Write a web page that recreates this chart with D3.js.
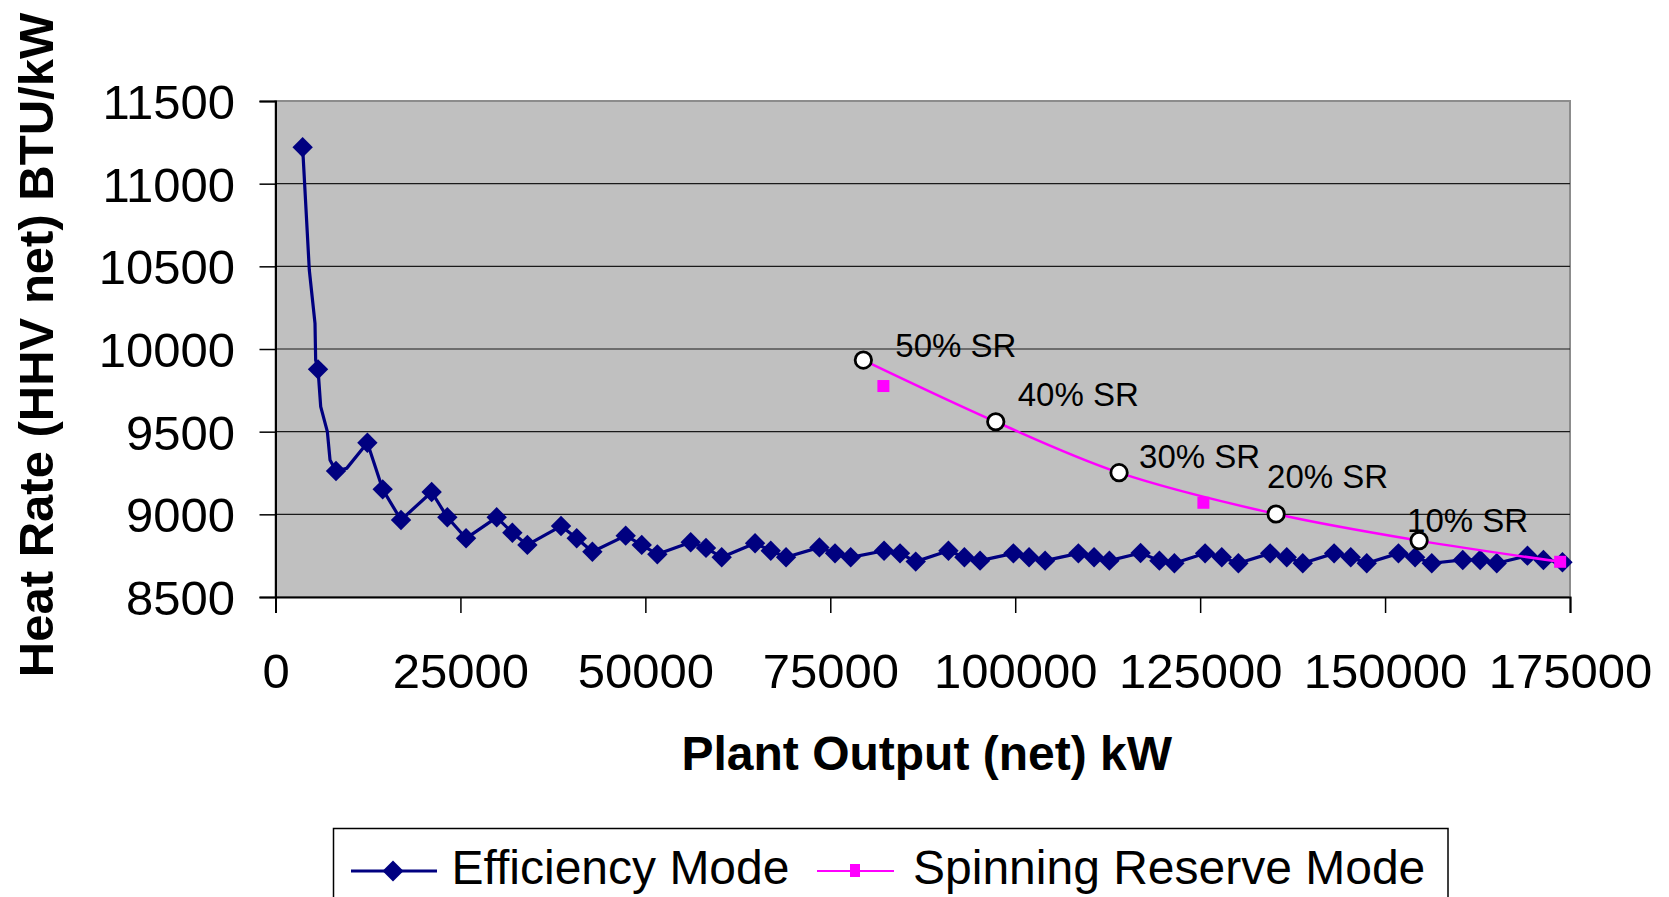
<!DOCTYPE html>
<html>
<head>
<meta charset="utf-8">
<script src="https://cdn.jsdelivr.net/npm/d3@7"></script>
<style>
    html, body { margin: 0; padding: 0; background: #fff; }
    svg { display: block; font-family: 'Liberation Sans', Arial, sans-serif; }
</style>
</head>
<body>
<svg id="chart"></svg>
<script>
// efficiency mode: plant output (kW) vs heat rate (BTU/kW)
const effOutput = [3670, 4570, 5340, 5430, 5750, 6110, 7010, 7370, 8180, 9620,
    12420, 14490, 16970, 21110, 23230, 25760, 29900, 32020, 34050, 38600,
    40720, 42840, 47340, 49510, 51620, 56130, 58200, 60320, 64830, 66950,
    69020, 73530, 75640, 77760, 82270, 84430, 86550, 90970, 93130, 95250,
    99750, 101870, 104040, 108540, 110660, 112730, 116950, 119490, 121520, 125670,
    127920, 130170, 134460, 136710, 138870, 143110, 145360, 147520, 151810, 154060,
    156310, 160500, 162850, 165100, 169250, 171410, 173980];
const effHeatRate = [11220, 10478, 10155, 9933, 9877, 9651, 9500, 9329, 9262, 9278,
    9433, 9151, 8966, 9135, 8982, 8855, 8982, 8889, 8815, 8929,
    8855, 8774, 8871, 8815, 8758, 8831, 8797, 8740, 8825, 8780,
    8740, 8800, 8764, 8740, 8780, 8764, 8714, 8780, 8740, 8720,
    8764, 8740, 8720, 8764, 8740, 8720, 8766, 8720, 8704, 8764,
    8740, 8704, 8764, 8740, 8704, 8764, 8740, 8704, 8764, 8740,
    8704, 8724, 8724, 8704, 8750, 8724, 8710];
// some points of the curve carry no marker
const effHasMarker = effOutput.map((d, i) => ![1, 2, 3, 5, 6, 7, 9].includes(i));

// spinning reserve mode
const srModeOutput = [82180, 125440, 173670];
const srModeHeatRate = [9776, 9070, 8713];

// spinning reserve levels (curve + open circles)
const srLevelOutput = [79470, 97370, 114040, 135270, 154600, 173670];
const srLevelHeatRate = [9933, 9560, 9252, 9002, 8841, 8713];
const srLevelLabels = ['50% SR', '40% SR', '30% SR', '20% SR', '10% SR'];
const labelNudge = [[32, -3], [22, -16], [20, -5], [-9, -26], [-12, -9]];

const xTicks = [0, 25000, 50000, 75000, 100000, 125000, 150000, 175000];
const yTicks = [8500, 9000, 9500, 10000, 10500, 11000, 11500];

const W = 1669, H = 897;
const plot = { left: 275.5, right: 1570, top: 101, bottom: 597 };

const svg = d3.select('#chart')
    .attr('width', W)
    .attr('height', H);

const x = d3.scaleLinear().domain([0, 175000]).range([plot.left, plot.right]);
const y = d3.scaleLinear().domain([8500, 11500]).range([plot.bottom, plot.top]);

// plot area
svg.append('rect')
    .attr('x', plot.left)
    .attr('y', plot.top)
    .attr('width', plot.right - plot.left)
    .attr('height', plot.bottom - plot.top)
    .attr('fill', '#c0c0c0')
    .attr('stroke', '#8c8c8c')
    .attr('stroke-width', 2);

// gridlines
svg.append('g')
    .attr('class', 'grid')
    .selectAll('line')
    .data(yTicks.filter(d => d > 8500 && d < 11500))
    .enter()
    .append('line')
        .attr('x1', plot.left)
        .attr('x2', plot.right)
        .attr('y1', d => y(d))
        .attr('y2', d => y(d))
        .attr('stroke', '#1a1a1a')
        .attr('stroke-width', 1.2);

// axes
const xAxis = svg.append('g')
    .attr('transform', `translate(0,${plot.bottom})`)
    .call(d3.axisBottom(x).tickValues(xTicks).tickFormat(d3.format('d')).tickSize(16).tickPadding(40));

const yAxis = svg.append('g')
    .attr('transform', `translate(${plot.left},0)`)
    .call(d3.axisLeft(y).tickValues(yTicks).tickFormat(d3.format('d')).tickSize(16).tickPadding(24.5));

[xAxis, yAxis].forEach(ax => {
    ax.select('.domain').attr('stroke', '#000').attr('stroke-width', 2);
    ax.selectAll('.tick line').attr('stroke', '#000').attr('stroke-width', 1.5);
    ax.selectAll('.tick text')
        .attr('fill', '#000')
        .style('font-size', '49px')
        .style('font-family', '\'Liberation Sans\', Arial, sans-serif');
});
yAxis.selectAll('.tick text').attr('dy', '0.36em');

// axis titles
svg.append('text')
    .attr('x', (plot.left + plot.right) / 2 + 4)
    .attr('y', 770)
    .attr('text-anchor', 'middle')
    .style('font-size', '48px')
    .style('font-weight', 'bold')
    .text('Plant Output (net) kW');

svg.append('text')
    .attr('transform', 'translate(53,345) rotate(-90)')
    .attr('text-anchor', 'middle')
    .style('font-size', '49px')
    .style('font-weight', 'bold')
    .text('Heat Rate (HHV net) BTU/kW');

const diamond = r => `M0,${-r}L${r},0L0,${r}L${-r},0Z`;

// efficiency mode line
const effData = effOutput.map((d, i) => ({ x: d, y: effHeatRate[i], marker: effHasMarker[i] }));

svg.append('path')
    .datum(effData)
    .attr('fill', 'none')
    .attr('stroke', '#000080')
    .attr('stroke-width', 3.2)
    .attr('stroke-linejoin', 'round')
    .attr('d', d3.line().x(d => x(d.x)).y(d => y(d.y)));

svg.append('g')
    .selectAll('path')
    .data(effData.filter(d => d.marker))
    .enter()
    .append('path')
        .attr('transform', d => `translate(${x(d.x)},${y(d.y)})`)
        .attr('d', diamond(10.2))
        .attr('fill', '#000080');

// spinning reserve level curve
const srLevelData = srLevelOutput.map((d, i) => ({ x: d, y: srLevelHeatRate[i] }));

svg.append('path')
    .datum(srLevelData)
    .attr('fill', 'none')
    .attr('stroke', '#ff00ff')
    .attr('stroke-width', 2.5)
    .attr('d', d3.line().x(d => x(d.x)).y(d => y(d.y)).curve(d3.curveCatmullRom));

// spinning reserve mode squares
svg.append('g')
    .selectAll('rect')
    .data(srModeOutput.map((d, i) => ({ x: d, y: srModeHeatRate[i] })))
    .enter()
    .append('rect')
        .attr('x', d => x(d.x) - 6)
        .attr('y', d => y(d.y) - 6)
        .attr('width', 12)
        .attr('height', 12)
        .attr('fill', '#ff00ff');

// open circles + labels
const levels = srLevelData.slice(0, srLevelLabels.length);

svg.append('g')
    .selectAll('circle')
    .data(levels)
    .enter()
    .append('circle')
        .attr('cx', d => x(d.x))
        .attr('cy', d => y(d.y))
        .attr('r', 8.2)
        .attr('fill', '#fff')
        .attr('stroke', '#000')
        .attr('stroke-width', 2.8);

svg.append('g')
    .selectAll('text')
    .data(levels)
    .enter()
    .append('text')
        .attr('x', (d, i) => x(d.x) + labelNudge[i][0])
        .attr('y', (d, i) => y(d.y) + labelNudge[i][1])
        .style('font-size', '33px')
        .attr('fill', '#000')
        .text((d, i) => srLevelLabels[i]);

// legend
const legend = svg.append('g');

legend.append('rect')
    .attr('x', 333.5)
    .attr('y', 828.5)
    .attr('width', 1114.5)
    .attr('height', 120)
    .attr('fill', '#fff')
    .attr('stroke', '#000')
    .attr('stroke-width', 1.5);

legend.append('line')
    .attr('x1', 351).attr('x2', 437)
    .attr('y1', 871).attr('y2', 871)
    .attr('stroke', '#000080')
    .attr('stroke-width', 3);

legend.append('path')
    .attr('transform', 'translate(393,871)')
    .attr('d', diamond(10.5))
    .attr('fill', '#000080');

legend.append('text')
    .attr('x', 451.5)
    .attr('y', 884)
    .style('font-size', '48px')
    .text('Efficiency Mode');

legend.append('line')
    .attr('x1', 817).attr('x2', 894)
    .attr('y1', 871).attr('y2', 871)
    .attr('stroke', '#ff00ff')
    .attr('stroke-width', 2);

legend.append('rect')
    .attr('x', 850).attr('y', 864)
    .attr('width', 10).attr('height', 13)
    .attr('fill', '#ff00ff');

legend.append('text')
    .attr('x', 913)
    .attr('y', 884)
    .style('font-size', '48px')
    .text('Spinning Reserve Mode');
</script>
</body>
</html>
